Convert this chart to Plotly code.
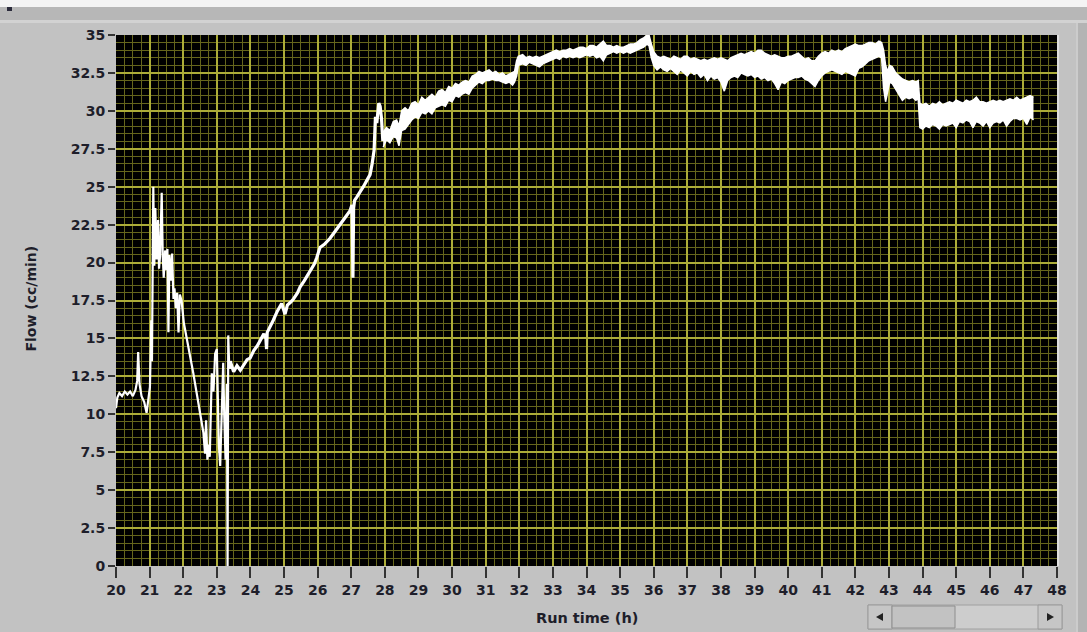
import plotly.graph_objects as go

W, H = 1087, 632

# ---- data ----
early_t = [20.00, 20.04, 20.10, 20.18, 20.26, 20.34, 20.42, 20.50, 20.58, 20.63, 20.66, 20.70, 20.76, 20.84,
           20.91, 20.96, 21.01, 21.05, 21.07, 21.11, 21.14, 21.17, 21.21, 21.25, 21.28, 21.31, 21.36, 21.39,
           21.42, 21.46, 21.50, 21.53, 21.56, 21.59, 21.63, 21.67, 21.71, 21.74, 21.78, 21.82, 21.86, 21.90,
           21.95, 22.02, 22.10, 22.20, 22.30, 22.40, 22.50, 22.60, 22.65, 22.68, 22.72, 22.75, 22.79, 22.82,
           22.85, 22.90, 22.95, 23.00, 23.03, 23.06, 23.10, 23.15, 23.19, 23.22, 23.26, 23.30, 23.32, 23.34,
           23.37, 23.40, 23.50, 23.60, 23.70, 23.80, 23.90, 23.99, 24.10, 24.20, 24.29, 24.40, 24.46, 24.48,
           24.50, 24.60, 24.68, 24.80, 24.93, 25.03, 25.10, 25.20, 25.28, 25.40, 25.48, 25.60, 25.77, 25.90,
           25.97, 26.07, 26.20, 26.37, 26.50, 26.67, 26.80, 26.96, 27.02, 27.05, 27.07, 27.10, 27.16, 27.25,
           27.36, 27.46, 27.56, 27.62, 27.68, 27.72, 27.76, 27.82, 27.86, 27.90, 27.94]
early_flow = [10.4, 11.1, 11.4, 11.2, 11.5, 11.3, 11.5, 11.2, 11.6, 12.2, 14.1, 12.0, 11.2, 10.8,
              10.1, 11.0, 11.8, 16.2, 13.5, 25.0, 19.8, 23.6, 20.2, 22.8, 19.6, 20.4, 24.6, 20.5,
              19.0, 20.8, 19.5, 20.9, 15.4, 20.5, 18.8, 20.6, 17.6, 18.3, 17.0, 18.0, 15.4, 17.9,
              17.5, 16.0, 15.1, 13.8, 12.7, 11.4, 10.1, 8.8, 7.4, 9.6, 7.0, 8.0, 7.2, 10.0,
              12.7, 11.5, 14.0, 14.3, 11.0, 8.0, 6.6, 10.5, 13.4, 10.0, 7.0, 12.0, 0.0, 15.2,
              13.0, 13.5, 12.8, 13.2, 12.9, 13.3, 13.6, 13.7, 14.2, 14.5, 14.9, 15.3, 15.0, 14.3,
              15.4, 15.8, 16.2, 16.8, 17.3, 16.6, 17.2, 17.4, 17.6, 18.0, 18.4, 18.8, 19.4, 19.9,
              20.3, 21.0, 21.2, 21.6, 22.0, 22.5, 22.9, 23.4, 23.8, 19.0, 23.6, 24.1, 24.3, 24.6,
              25.0, 25.4, 25.8, 26.5, 27.4, 29.6, 29.2, 30.5, 30.3, 29.5, 28.0]

# noisy part of the record: upper and lower edge of the white band
band_t = [27.95, 28.05, 28.15, 28.25, 28.35, 28.42, 28.5, 28.6, 28.7, 28.8, 28.9, 29.0, 29.1, 29.2, 29.3,
          29.4, 29.5, 29.6, 29.7, 29.8, 29.9, 30.0, 30.1, 30.2, 30.3, 30.4, 30.5, 30.6, 30.7, 30.8, 30.9,
          31.0, 31.1, 31.2, 31.3, 31.4, 31.5, 31.6, 31.7, 31.8, 31.86, 31.92, 31.97,
          32.1, 32.2, 32.3, 32.4, 32.5, 32.6, 32.7, 32.8, 32.9, 33.0, 33.1, 33.2, 33.3, 33.4, 33.5, 33.6,
          33.7, 33.8, 33.9, 34.0, 34.1, 34.2, 34.3, 34.4, 34.5, 34.6, 34.7, 34.8, 34.9, 35.0, 35.1, 35.2,
          35.3, 35.4, 35.5, 35.6, 35.7, 35.8, 35.86, 35.93, 36.0, 36.1, 36.2, 36.3, 36.4, 36.5, 36.6, 36.7,
          36.8, 36.9, 37.0, 37.1, 37.2, 37.3, 37.4, 37.5, 37.6, 37.7, 37.8, 37.9, 38.0, 38.1, 38.2, 38.3,
          38.4, 38.5, 38.6, 38.7, 38.8, 38.9, 39.0, 39.1, 39.2, 39.3, 39.4, 39.5, 39.6, 39.7, 39.8, 39.9,
          40.0, 40.1, 40.2, 40.3, 40.4, 40.5, 40.6, 40.7, 40.8, 40.9, 41.0, 41.1, 41.2, 41.3, 41.4, 41.5,
          41.6, 41.7, 41.8, 41.9, 42.0, 42.1, 42.2, 42.3, 42.4, 42.5, 42.6, 42.7, 42.78, 42.84, 42.9, 42.96,
          43.02, 43.1, 43.2, 43.3, 43.4, 43.5, 43.6, 43.7, 43.8, 43.87, 43.92, 44.0, 44.1, 44.2, 44.3, 44.4,
          44.5, 44.6, 44.7, 44.8, 44.9, 45.0, 45.1, 45.2, 45.3, 45.4, 45.5, 45.6, 45.7, 45.8, 45.9, 46.0,
          46.1, 46.2, 46.3, 46.4, 46.5, 46.6, 46.7, 46.8, 46.9, 47.0, 47.1, 47.2, 47.3]
band_hi = [28.6, 28.9, 28.7, 29.3, 29.4, 29.0, 30.0, 30.2, 30.0, 30.5, 30.6, 30.4, 30.9, 30.7, 30.9,
           31.1, 30.9, 31.3, 31.4, 31.2, 31.6, 31.5, 31.8, 31.7, 31.9, 32.0, 31.9, 32.3, 32.4, 32.6, 32.5,
           32.6, 32.7, 32.5, 32.6, 32.4, 32.5, 32.3, 32.4, 32.5, 32.6, 33.3, 33.6,
           33.7, 33.5, 33.6, 33.5, 33.6, 33.5, 33.6, 33.7, 33.8, 33.9, 34.0, 33.9, 34.0, 34.0, 34.1, 34.0,
           34.1, 34.2, 34.2, 34.1, 34.3, 34.3, 34.2, 34.4, 34.6, 34.3, 34.3, 34.2, 34.3, 34.2, 34.2, 34.3,
           34.4, 34.4, 34.5, 34.7, 34.8, 35.0, 35.0, 34.4, 33.9, 33.6, 33.5, 33.6, 33.5, 33.4, 33.6, 33.5,
           33.4, 33.6, 33.6, 33.4, 33.5, 33.4, 33.3, 33.4, 33.3, 33.4, 33.5, 33.4, 33.5, 33.4, 33.3, 33.5,
           33.6, 33.7, 33.8, 33.7, 33.8, 33.9, 33.8, 34.0, 34.0, 33.8, 33.7, 33.6, 33.7, 33.6, 33.5, 33.5,
           33.6, 33.6, 33.7, 33.8, 33.6, 33.4, 33.5, 33.3, 33.3, 33.6, 33.8, 33.9, 33.8, 34.0, 33.9, 34.0,
           33.9, 34.1, 34.2, 34.3, 34.4, 34.3, 34.3, 34.4, 34.5, 34.5, 34.4, 34.6, 34.5, 34.0, 33.0, 32.6,
           33.0, 32.9, 32.5, 32.3, 32.1, 32.0, 31.9, 32.0, 31.9, 32.0, 30.5, 30.4, 30.5, 30.3, 30.5, 30.4,
           30.6, 30.4, 30.5, 30.6, 30.5, 30.7, 30.6, 30.5, 30.7, 30.6, 30.7, 30.9, 30.6, 30.6, 30.5, 30.6,
           30.7, 30.6, 30.7, 30.6, 30.7, 30.8, 30.7, 30.9, 30.7, 30.8, 30.9, 31.0, 30.9]
band_lo = [27.6, 28.1, 27.9, 28.3, 28.2, 27.7, 28.7, 28.8, 29.1, 29.4, 29.6, 29.5, 29.9, 29.8, 30.0,
           29.8, 30.2, 30.3, 30.4, 30.3, 30.7, 30.6, 31.0, 30.9, 31.1, 31.2, 31.1, 31.5, 31.7, 31.9, 31.8,
           32.0, 32.0, 32.1, 32.0, 32.0, 31.9, 31.8, 31.9, 31.7, 31.9, 32.3, 33.0,
           33.1, 33.0, 33.2, 33.1, 33.0, 32.9, 33.1, 33.2, 33.3, 33.4, 33.5, 33.4, 33.6, 33.5, 33.6, 33.5,
           33.6, 33.5, 33.6, 33.7, 33.6, 33.7, 33.5, 33.6, 33.3, 33.7, 33.8, 33.9, 33.8, 33.9, 33.8, 33.9,
           33.8, 33.9, 34.0, 34.1, 34.2, 34.4, 34.3, 33.5, 33.0, 32.7, 32.9, 32.7, 32.6, 32.8, 32.6, 32.4,
           32.7, 32.5, 32.3, 32.6, 32.4, 32.5, 32.2, 32.4, 32.0, 32.3, 32.1, 32.2, 31.9, 31.3, 32.0, 32.2,
           32.3, 32.2, 32.5, 32.4, 32.3, 32.4, 32.2, 32.3, 32.1, 32.2, 32.0, 32.1, 31.8, 31.4, 31.9, 31.8,
           32.0, 32.1, 32.2, 32.2, 32.3, 32.1, 32.0, 31.8, 31.6, 32.0, 32.3, 32.5, 32.6, 32.7, 32.6, 32.5,
           32.4, 32.6, 32.5, 32.4, 32.3, 32.8, 32.9, 33.1, 33.3, 33.4, 33.5, 33.6, 33.5, 31.5, 30.6, 31.2,
           31.9, 31.8, 31.4, 31.0, 30.7, 30.9, 30.8, 30.9, 30.7, 30.8, 28.9, 28.8, 29.0, 28.9, 29.1, 29.0,
           28.8, 29.1, 29.0, 29.1, 29.2, 28.9, 29.3, 29.2, 29.4, 29.3, 28.9, 29.3, 29.2, 29.0, 29.3, 28.9,
           29.2, 29.3, 29.2, 29.4, 29.0, 29.3, 29.5, 29.5, 29.4, 29.5, 29.1, 29.6, 29.4]

x_ticks = list(range(20, 49))
y_ticks = [0, 2.5, 5, 7.5, 10, 12.5, 15, 17.5, 20, 22.5, 25, 27.5, 30, 32.5, 35]
y_tick_text = ["0", "2.5", "5", "7.5", "10", "12.5", "15", "17.5", "20", "22.5", "25", "27.5", "30", "32.5", "35"]

# ---- layout geometry (pixels) ----
PL, PR, PT, PB = 116, 1057, 35, 566


def fx(px):
    return px / W


def fy(py):
    return 1 - py / H


TXT = "#1e1e2a"
FONT = "DejaVu Sans"

split = next(i for i, t in enumerate(early_t) if t >= 23.37)

fig = go.Figure()
fig.add_trace(go.Scatter(x=early_t[:split + 1], y=early_flow[:split + 1], mode="lines",
                         line=dict(color="white", width=2.2), showlegend=False, hoverinfo="skip"))
fig.add_trace(go.Scatter(x=early_t[split:], y=early_flow[split:], mode="lines",
                         line=dict(color="white", width=3.2), showlegend=False, hoverinfo="skip"))
fig.add_trace(go.Scatter(x=band_t, y=band_lo, mode="lines",
                         line=dict(color="white", width=1.5), showlegend=False, hoverinfo="skip"))
fig.add_trace(go.Scatter(x=band_t, y=band_hi, mode="lines", fill="tonexty", fillcolor="white",
                         line=dict(color="white", width=1.5), showlegend=False, hoverinfo="skip"))

shapes = []
# window chrome
shapes.append(dict(type="rect", xref="paper", yref="paper", x0=0, x1=1, y0=fy(7), y1=1,
                   fillcolor="#f4f4f4", line=dict(width=0), layer="below"))
shapes.append(dict(type="rect", xref="paper", yref="paper", x0=0, x1=1, y0=fy(20), y1=fy(7),
                   fillcolor="#b7b7b7", line=dict(width=0), layer="below"))
shapes.append(dict(type="rect", xref="paper", yref="paper", x0=0, x1=1, y0=fy(23), y1=fy(20),
                   fillcolor="#d2d2d2", line=dict(width=0), layer="below"))
shapes.append(dict(type="rect", xref="paper", yref="paper", x0=fx(1078), x1=1, y0=0, y1=fy(23),
                   fillcolor="#b4b4b4", line=dict(width=0), layer="below"))
shapes.append(dict(type="line", xref="paper", yref="paper", x0=fx(1077), x1=fx(1077), y0=0, y1=fy(23),
                   line=dict(color="#d6d6d6", width=1), layer="below"))
shapes.append(dict(type="rect", xref="paper", yref="paper", x0=fx(7), x1=fx(12), y0=fy(11), y1=fy(7),
                   fillcolor="#2a2a3a", line=dict(width=0)))
# plot frame highlight
shapes.append(dict(type="line", xref="paper", yref="paper", x0=fx(PR + 1), x1=fx(PR + 1), y0=fy(PB), y1=fy(PT),
                   line=dict(color="#e8e8e8", width=1.5)))
# scrollbar
sb_x0, sb_x1, sb_y0, sb_y1 = 868, 1062, 605, 629
shapes.append(dict(type="rect", xref="paper", yref="paper", x0=fx(sb_x0), x1=fx(sb_x1), y0=fy(sb_y1), y1=fy(sb_y0),
                   fillcolor="#cdcdcd", line=dict(color="#a0a0a0", width=1)))
shapes.append(dict(type="rect", xref="paper", yref="paper", x0=fx(sb_x0), x1=fx(892), y0=fy(sb_y1), y1=fy(sb_y0),
                   fillcolor="#c6c6c6", line=dict(color="#9a9a9a", width=1)))
shapes.append(dict(type="rect", xref="paper", yref="paper", x0=fx(892), x1=fx(955), y0=fy(sb_y1 - 1), y1=fy(sb_y0 + 1),
                   fillcolor="#c2c2c2", line=dict(color="#8e8e8e", width=1)))
shapes.append(dict(type="rect", xref="paper", yref="paper", x0=fx(1038), x1=fx(sb_x1), y0=fy(sb_y1), y1=fy(sb_y0),
                   fillcolor="#c6c6c6", line=dict(color="#9a9a9a", width=1)))


def tri(points):
    p = "M " + " L ".join(f"{fx(a):.5f},{fy(b):.5f}" for a, b in points) + " Z"
    return dict(type="path", xref="paper", yref="paper", path=p, fillcolor="#222222", line=dict(width=0))


shapes.append(tri([(876, 617), (883, 613), (883, 621)]))
shapes.append(tri([(1054, 617), (1047, 613), (1047, 621)]))

annotations = [
    dict(text="<b>Run time (h)</b>", x=fx((PL + PR) / 2), y=fy(618), xref="paper", yref="paper",
         showarrow=False, font=dict(family=FONT, size=14.5, color=TXT), xanchor="center", yanchor="middle"),
    dict(text="<b>Flow (cc/min)</b>", x=fx(30), y=fy((PT + PB) / 2 - 2), xref="paper", yref="paper",
         showarrow=False, textangle=-90, font=dict(family=FONT, size=14, color=TXT),
         xanchor="center", yanchor="middle"),
]

MAJOR = "#acac38"
MINOR = "#66661c"

fig.update_layout(
    width=W, height=H,
    margin=dict(l=0, r=0, t=0, b=0, autoexpand=False),
    paper_bgcolor="#c2c2c2",
    plot_bgcolor="black",
    showlegend=False,
    shapes=shapes,
    annotations=annotations,
    xaxis=dict(
        domain=[fx(PL), fx(PR)], range=[20, 48], tickmode="array", tickvals=x_ticks,
        ticktext=[str(v) for v in x_ticks], automargin=False,
        showgrid=True, gridcolor=MAJOR, gridwidth=1.5,
        minor=dict(dtick=0.25, showgrid=True, gridcolor=MINOR, gridwidth=1, ticks=""),
        ticks="outside", ticklen=11, tickwidth=2, tickcolor="#333333",
        tickfont=dict(family=FONT, size=14, color=TXT, weight="bold"),
        zeroline=False, showline=False, fixedrange=True,
    ),
    yaxis=dict(
        domain=[fy(PB), fy(PT)], range=[0, 35], tickmode="array", tickvals=y_ticks, ticktext=y_tick_text,
        automargin=False,
        showgrid=True, gridcolor=MAJOR, gridwidth=1.5,
        minor=dict(dtick=0.5, showgrid=True, gridcolor=MINOR, gridwidth=1, ticks=""),
        ticks="outside", ticklen=7, tickwidth=2, tickcolor="#333333",
        tickfont=dict(family=FONT, size=14, color=TXT, weight="bold"),
        zeroline=False, showline=False, fixedrange=True,
    ),
)

fig.write_html("out.html")
